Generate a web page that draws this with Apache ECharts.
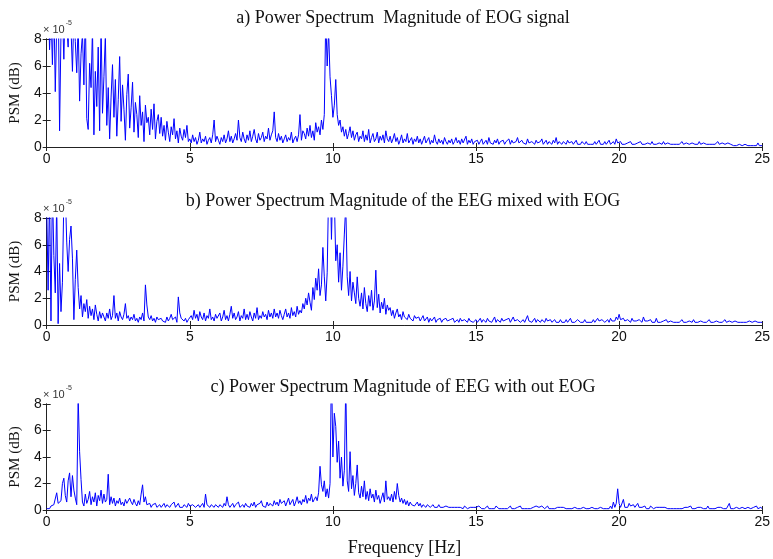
<!DOCTYPE html>
<html><head><meta charset="utf-8">
<script src="https://cdn.jsdelivr.net/npm/echarts@6/dist/echarts.min.js"></script>
<style>html,body{margin:0;padding:0;background:#fff}#c{width:773px;height:559px}</style>
</head><body><div id="c"></div>
<script>
// Frequency step (Hz) between samples; values in units of 1e-5
const freqStep = 0.05;
const xTicks = [0, 5, 10, 15, 20, 25];
const yTicks = [0, 2, 4, 6, 8];
const titles = [
  'a) Power Spectrum  Magnitude of EOG signal',
  'b) Power Spectrum Magnitude of the EEG mixed with EOG',
  'c) Power Spectrum Magnitude of EEG with out EOG'
];
const yAxisName = 'PSM (dB)';
const xAxisName = 'Frequency [Hz]';

const psmEOG = [
  9.5,12,7.2,10,6.1,11,4.1,9,12,1.2,8.5,10,6.5,11,9,7.4,12,8.8,5.6,10,
  7.8,5.5,9.2,3.4,6.9,8.4,4.6,10,2.1,1.3,6.2,4.4,8.8,0.9,5.6,3.0,7.4,1.2,9.1,2.5,
  5.2,8.3,1.6,4.4,0.6,3.7,6.1,2.2,5.0,0.8,3.5,6.7,1.9,4.6,2.8,0.5,3.9,5.4,1.4,2.9,
  4.8,1.1,3.3,2.4,0.7,3.8,1.6,2.6,0.4,3.1,1.8,2.2,0.9,2.8,1.3,3.2,0.6,1.9,2.4,1.0,
  2.2,0.8,1.6,0.5,1.9,1.1,0.4,1.5,0.9,2.1,0.6,1.2,0.3,1.4,0.8,0.5,1.3,0.7,1.6,0.4,
  0.6,0.3,0.9,0.4,0.7,0.2,0.5,1.1,0.3,0.6,0.4,0.8,0.2,0.5,0.7,0.3,0.9,2.0,0.4,0.8,
  0.5,0.2,0.7,0.4,0.9,0.3,0.6,1.2,0.4,0.8,0.3,0.6,1.0,0.5,2.0,0.7,0.4,1.1,0.6,0.3,
  0.9,0.5,1.2,0.4,0.8,1.3,0.6,0.3,1.0,0.5,0.7,1.1,0.4,0.8,0.6,1.4,0.5,0.9,1.2,2.6,
  0.7,0.4,1.0,0.5,0.8,0.3,0.6,0.9,0.4,0.7,0.5,1.1,0.3,0.6,0.8,0.4,0.9,2.4,0.5,1.2,
  1.0,0.6,1.4,0.8,1.6,0.7,1.2,0.5,1.8,1.1,1.5,0.9,2.0,1.3,2.4,9.6,6.0,8.6,5.2,3.8,
  2.2,3.1,5.0,2.4,1.6,2.0,1.1,1.5,0.8,1.3,0.6,1.0,1.5,0.7,1.2,0.5,0.9,1.1,0.4,0.8,
  0.6,1.2,0.4,0.9,0.5,1.3,0.3,0.7,1.0,0.4,0.6,1.1,0.3,0.8,0.5,0.9,0.3,1.2,0.6,0.4,
  0.8,0.3,0.6,1.0,0.4,0.7,0.2,0.5,0.9,0.3,0.6,0.4,1.0,0.3,0.5,0.7,0.2,0.6,0.4,0.8,
  0.3,0.6,0.2,0.5,0.8,0.3,0.4,0.7,0.2,0.5,0.3,0.9,0.4,0.2,0.6,0.3,0.5,0.2,0.7,0.4,
  0.2,0.5,0.3,0.6,0.2,0.4,0.7,0.3,0.5,0.2,0.6,0.3,0.4,0.8,0.2,0.5,0.3,0.6,0.2,0.4,
  0.3,0.5,0.2,0.4,0.6,0.2,0.3,0.5,0.2,0.7,0.3,0.4,0.2,0.5,0.3,0.6,0.2,0.4,0.3,0.5,
  0.2,0.4,0.3,0.6,0.2,0.5,0.3,0.2,0.4,0.7,0.3,0.2,0.5,0.3,0.4,0.2,0.6,0.3,0.2,0.4,
  0.3,0.2,0.5,0.3,0.2,0.4,0.6,0.2,0.3,0.5,0.2,0.4,0.3,0.2,0.5,0.3,0.7,0.2,0.4,0.3,
  0.2,0.4,0.3,0.2,0.5,0.3,0.2,0.4,0.2,0.3,0.5,0.2,0.3,0.2,0.4,0.3,0.2,0.4,0.2,0.3,
  0.2,0.3,0.2,0.4,0.2,0.3,0.5,0.2,0.3,0.2,0.4,0.2,0.3,0.5,0.2,0.3,0.4,0.2,0.6,0.3,
  0.2,0.4,0.2,0.3,0.2,0.2,0.3,0.2,0.4,0.2,0.3,0.2,0.2,0.3,0.2,0.4,0.2,0.3,0.2,0.2,
  0.3,0.2,0.2,0.4,0.2,0.3,0.2,0.2,0.3,0.2,0.2,0.4,0.2,0.2,0.3,0.2,0.2,0.3,0.2,0.2,
  0.2,0.3,0.2,0.2,0.4,0.2,0.2,0.3,0.2,0.2,0.2,0.3,0.2,0.2,0.3,0.2,0.4,0.2,0.2,0.3,
  0.2,0.2,0.3,0.2,0.2,0.2,0.3,0.2,0.2,0.4,0.2,0.2,0.3,0.2,0.2,0.2,0.3,0.2,0.2,0.2,
  0.1,0.2,0.1,0.1,0.2,0.1,0.1,0.1,0.2,0.1,0.1,0.1,0.1,0.2,0.1,0.1,0.1,0.3,0.1,0.1,
  0.1
];

const psmMixed = [
  9.0,2.6,10,0.3,10.5,5.2,2.4,9.2,0.1,4.6,1.0,3.2,9.5,10,6.2,4.0,6.4,7.4,5.0,0.4,
  3.4,5.6,2.8,1.2,2.2,0.6,1.6,1.0,1.9,0.5,1.4,0.7,1.2,0.4,1.5,0.8,0.3,1.0,0.5,0.9,
  0.6,0.3,0.9,0.5,1.2,0.4,0.7,2.2,0.5,0.9,0.3,1.0,0.6,0.4,0.8,1.6,0.5,0.7,0.3,0.6,
  0.4,0.8,0.3,0.5,0.2,0.6,0.4,0.9,0.3,3.0,1.5,0.6,0.4,0.7,0.3,0.5,0.2,0.6,0.4,0.3,
  0.5,0.3,0.4,0.2,0.6,0.3,0.5,0.8,0.4,0.3,0.6,0.2,2.1,0.9,0.5,0.6,0.3,0.5,0.2,0.4,
  0.3,0.7,0.4,1.1,0.5,0.8,0.3,1.0,0.6,0.4,0.9,0.3,0.7,0.5,1.2,0.4,0.6,0.3,0.8,0.5,
  0.4,0.9,0.3,0.6,1.1,0.4,0.7,0.3,0.8,1.4,0.5,0.9,0.4,0.6,1.0,0.3,0.7,0.5,1.2,0.4,
  0.8,0.4,1.0,0.6,0.3,0.9,0.5,1.3,0.4,0.7,0.5,1.0,0.6,0.8,0.4,1.1,0.6,0.9,0.5,1.2,
  0.6,0.9,0.5,1.1,0.7,0.4,0.8,1.2,0.6,0.9,0.5,1.3,0.7,1.0,0.6,1.4,0.8,1.1,0.9,1.6,
  1.2,2.0,1.5,2.4,1.7,1.1,2.8,1.9,3.5,2.6,4.2,2.2,3.0,5.8,3.6,1.8,3.9,10,12,6.4,
  11,9.5,4.8,6.0,3.2,5.4,2.6,4.4,6.8,9.0,3.6,2.2,4.0,1.8,3.2,2.4,1.6,3.6,2.0,1.4,
  2.4,1.2,2.8,1.6,1.0,2.2,1.4,2.6,1.1,1.8,4.1,1.3,2.3,0.9,1.7,1.2,2.0,0.8,1.5,1.1,
  1.3,0.7,1.1,0.5,0.9,1.2,0.6,0.8,0.4,1.0,0.6,0.7,0.4,0.8,0.5,0.6,0.3,0.7,0.5,0.4,
  0.6,0.3,0.5,0.7,0.3,0.4,0.6,0.2,0.5,0.3,0.4,0.6,0.2,0.4,0.3,0.5,0.2,0.4,0.3,0.5,
  0.3,0.2,0.4,0.3,0.5,0.2,0.3,0.4,0.2,0.5,0.3,0.2,0.4,0.3,0.2,0.5,0.3,0.4,0.2,0.3,
  0.4,0.2,0.3,0.5,0.2,0.4,0.3,0.2,0.5,0.3,0.4,0.2,0.3,0.6,0.2,0.4,0.3,0.2,0.5,0.3,
  0.2,0.4,0.3,0.5,0.2,0.3,0.6,0.3,0.2,0.4,0.5,0.2,0.3,0.4,0.2,0.3,0.7,0.3,0.4,0.2,
  0.3,0.5,0.2,0.4,0.3,0.2,0.4,0.3,0.2,0.5,0.3,0.2,0.4,0.2,0.3,0.4,0.2,0.3,0.2,0.4,
  0.2,0.3,0.2,0.4,0.2,0.3,0.5,0.2,0.3,0.2,0.2,0.4,0.3,0.2,0.3,0.2,0.4,0.2,0.3,0.2,
  0.3,0.2,0.4,0.2,0.3,0.5,0.3,0.2,0.4,0.3,0.2,0.3,0.4,0.2,0.5,0.3,0.4,0.3,0.6,0.4,
  0.8,0.4,0.3,0.5,0.3,0.2,0.4,0.3,0.2,0.5,0.3,0.2,0.3,0.2,0.4,0.3,0.2,0.6,0.3,0.2,
  0.3,0.2,0.4,0.2,0.3,0.2,0.5,0.2,0.3,0.2,0.2,0.3,0.2,0.4,0.2,0.2,0.3,0.2,0.2,0.3,
  0.2,0.3,0.2,0.2,0.4,0.2,0.3,0.2,0.2,0.3,0.2,0.2,0.4,0.2,0.3,0.2,0.2,0.3,0.2,0.2,
  0.3,0.2,0.2,0.4,0.2,0.3,0.2,0.2,0.3,0.2,0.2,0.3,0.2,0.2,0.4,0.2,0.2,0.3,0.2,0.2,
  0.2,0.3,0.2,0.2,0.3,0.2,0.2,0.2,0.3,0.2,0.2,0.3,0.2,0.2,0.2,0.3,0.2,0.2,0.3,0.2,
  0.2
];

const psmClean = [
  0.1,0.2,0.1,0.3,0.2,0.4,0.3,1.3,0.5,0.4,0.7,2.0,2.4,1.1,0.6,2.2,2.8,1.0,2.6,1.5,
  0.9,0.4,8.5,4.4,2.3,0.6,0.3,1.2,0.5,0.8,1.4,0.4,1.0,0.6,1.3,0.3,1.1,0.7,1.5,0.5,
  1.2,0.6,0.8,2.7,0.4,1.0,0.5,0.9,0.3,0.7,0.5,0.9,0.4,0.6,0.3,0.8,0.5,0.4,0.9,0.6,
  0.4,0.8,0.5,0.3,0.7,0.4,1.2,1.9,0.6,1.0,0.4,0.3,0.5,0.2,0.4,0.3,0.5,0.2,0.3,0.4,
  0.2,0.3,0.5,0.2,0.4,0.3,0.2,0.4,0.3,0.6,0.2,0.3,0.5,0.2,0.3,0.2,0.4,0.3,0.2,0.5,
  0.3,0.2,0.4,0.5,0.2,0.3,0.4,0.2,0.3,0.5,0.2,1.2,0.4,0.3,0.2,0.4,0.3,0.2,0.4,0.3,
  0.2,0.4,0.3,0.2,0.5,0.3,1.0,0.4,0.2,0.3,0.5,0.2,0.4,0.3,0.6,0.2,0.3,0.4,0.2,0.5,
  0.3,0.4,0.2,0.5,0.3,0.6,0.2,0.4,0.3,0.5,0.7,0.3,0.4,0.2,0.6,0.3,0.5,0.4,0.3,0.7,
  0.4,0.6,0.3,0.8,0.5,0.4,0.7,0.3,0.6,0.9,0.4,0.5,0.8,0.3,0.6,1.0,0.5,0.7,0.4,0.8,
  0.6,1.1,0.5,0.9,0.7,1.2,0.6,0.8,1.0,0.7,1.3,3.3,1.9,1.4,2.2,1.0,1.6,0.9,2.0,11,
  4.0,7.3,6.3,3.6,5.2,2.4,4.0,1.8,3.0,9.5,2.2,1.4,4.4,1.6,2.6,1.1,2.0,3.4,1.3,0.9,
  1.8,1.0,2.2,0.8,1.4,0.7,1.6,0.9,1.2,0.6,1.5,0.8,1.1,0.5,0.9,1.3,0.6,2.2,0.8,1.0,
  0.7,1.2,0.6,1.4,0.8,2.0,1.1,0.6,0.9,0.5,0.8,0.4,0.7,0.3,0.6,0.4,0.5,0.3,0.4,0.6,
  0.3,0.5,0.2,0.4,0.3,0.2,0.4,0.3,0.2,0.3,0.4,0.2,0.3,0.2,0.4,0.2,0.3,0.2,0.2,0.3,
  0.2,0.2,0.3,0.2,0.1,0.2,0.3,0.2,0.1,0.2,0.2,0.1,0.3,0.2,0.1,0.2,0.2,0.1,0.2,0.3,
  0.2,0.1,0.3,0.2,0.1,0.2,0.1,0.2,0.3,0.1,0.2,0.1,0.2,0.1,0.3,0.2,0.1,0.2,0.1,0.2,
  0.1,0.2,0.1,0.2,0.3,0.1,0.2,0.1,0.1,0.2,0.1,0.3,0.1,0.2,0.1,0.2,0.1,0.2,0.1,0.1,
  0.2,0.1,0.3,0.4,0.2,0.1,0.3,0.2,0.1,0.2,0.3,0.1,0.2,0.1,0.2,0.1,0.1,0.2,0.1,0.2,
  0.1,0.2,0.1,0.1,0.2,0.1,0.2,0.1,0.1,0.2,0.1,0.1,0.2,0.1,0.1,0.2,0.1,0.1,0.2,0.1,
  0.1,0.2,0.1,0.1,0.2,0.1,0.1,0.2,0.1,0.1,0.2,0.1,0.2,0.1,0.3,0.1,0.6,0.2,0.5,1.6,
  0.5,0.2,0.3,0.8,0.2,0.3,0.2,0.5,0.3,0.2,0.4,0.2,0.3,0.5,0.2,0.3,0.2,0.2,0.3,0.1,
  0.2,0.1,0.3,0.2,0.1,0.2,0.2,0.1,0.2,0.1,0.2,0.1,0.2,0.2,0.1,0.2,0.1,0.2,0.1,0.2,
  0.1,0.2,0.1,0.2,0.1,0.1,0.2,0.1,0.2,0.1,0.3,0.1,0.2,0.1,0.1,0.2,0.1,0.2,0.3,0.1,
  0.2,0.1,0.3,0.1,0.2,0.1,0.2,0.1,0.1,0.2,0.1,0.2,0.1,0.1,0.2,0.1,0.2,0.5,0.1,0.1,
  0.1,0.1,0.2,0.1,0.1,0.1,0.2,0.1,0.1,0.1,0.2,0.1,0.1,0.1,0.2,0.1,0.3,0.1,0.1,0.2,
  0.1
];

const seriesData = [psmEOG, psmMixed, psmClean];
const grids = [
  {left: 41, right: 7, top: 39, height: 108},
  {left: 41, right: 7, top: 218, height: 107},
  {left: 41, right: 7, top: 404, height: 106}
];
const titleY = [9, 192, 378];

const chart = echarts.init(document.getElementById('c'), null, {renderer: 'canvas'});
const axisColor = '#222';
const serif = 'Liberation Serif, Times New Roman, serif';
const narrow = 'Liberation Sans Narrow, Liberation Sans, Arial, sans-serif';

const xAxes = [], yAxes = [], series = [], graphics = [];
grids.forEach((g, i) => {
  xAxes.push({
    type: 'value', gridIndex: i, min: xTicks[0], max: xTicks[xTicks.length - 1], interval: 5,
    axisLine: {lineStyle: {color: axisColor, width: 1}},
    axisTick: {inside: true, length: 4, lineStyle: {color: axisColor}},
    axisLabel: {color: '#111', fontFamily: narrow, fontSize: 14, margin: 5},
    splitLine: {show: false},
    name: i === 2 ? xAxisName : '', nameLocation: 'middle', nameGap: 29,
    nameTextStyle: {fontFamily: serif, fontSize: 18, color: '#111'}
  });
  xAxes.push({
    type: 'value', gridIndex: i, position: 'top', min: 0, max: 25, interval: 5,
    axisLine: {lineStyle: {color: axisColor, width: 1}},
    axisTick: {inside: true, length: 4, lineStyle: {color: axisColor}},
    axisLabel: {show: false}, splitLine: {show: false}
  });
  yAxes.push({
    type: 'value', gridIndex: i, min: yTicks[0], max: yTicks[yTicks.length - 1], interval: 2,
    axisLine: {show: true, lineStyle: {color: axisColor, width: 1}},
    axisTick: {show: true, inside: true, length: 4, lineStyle: {color: axisColor}},
    axisLabel: {color: '#111', fontFamily: narrow, fontSize: 14, margin: 5},
    splitLine: {show: false},
    name: yAxisName, nameLocation: 'middle', nameGap: 15,
    nameTextStyle: {fontFamily: serif, fontSize: 15, color: '#111'}
  });
  yAxes.push({
    type: 'value', gridIndex: i, position: 'right', min: 0, max: 8, interval: 2,
    axisLine: {show: true, lineStyle: {color: axisColor, width: 1}},
    axisTick: {show: true, inside: true, length: 4, lineStyle: {color: axisColor}},
    axisLabel: {show: false}, splitLine: {show: false}
  });
  series.push({
    type: 'line', xAxisIndex: i * 2, yAxisIndex: i * 2,
    data: seriesData[i].map((v, k) => [+(k * freqStep).toFixed(2), v]),
    showSymbol: false, symbol: 'none', sampling: null, clip: true,
    lineStyle: {color: '#0000ff', width: 1}, animation: false
  });
  graphics.push({
    type: 'text', x: 403, y: titleY[i],
    style: {text: titles[i], font: '18px ' + serif, fill: '#111', textAlign: 'center'}
  });
  graphics.push({
    type: 'text', left: 43, top: g.top - 19,
    style: {
      text: '{a|× 10}{b|-5}', fill: '#333',
      rich: {a: {fontFamily: narrow, fontSize: 11, verticalAlign: 'bottom'},
             b: {fontFamily: narrow, fontSize: 7, verticalAlign: 'top', padding: [0, 0, 8, 1]}}
    }
  });
});

chart.setOption({
  animation: false,
  backgroundColor: '#fff',
  grid: grids,
  xAxis: xAxes,
  yAxis: yAxes,
  series: series,
  graphic: graphics
});
</script></body></html>
